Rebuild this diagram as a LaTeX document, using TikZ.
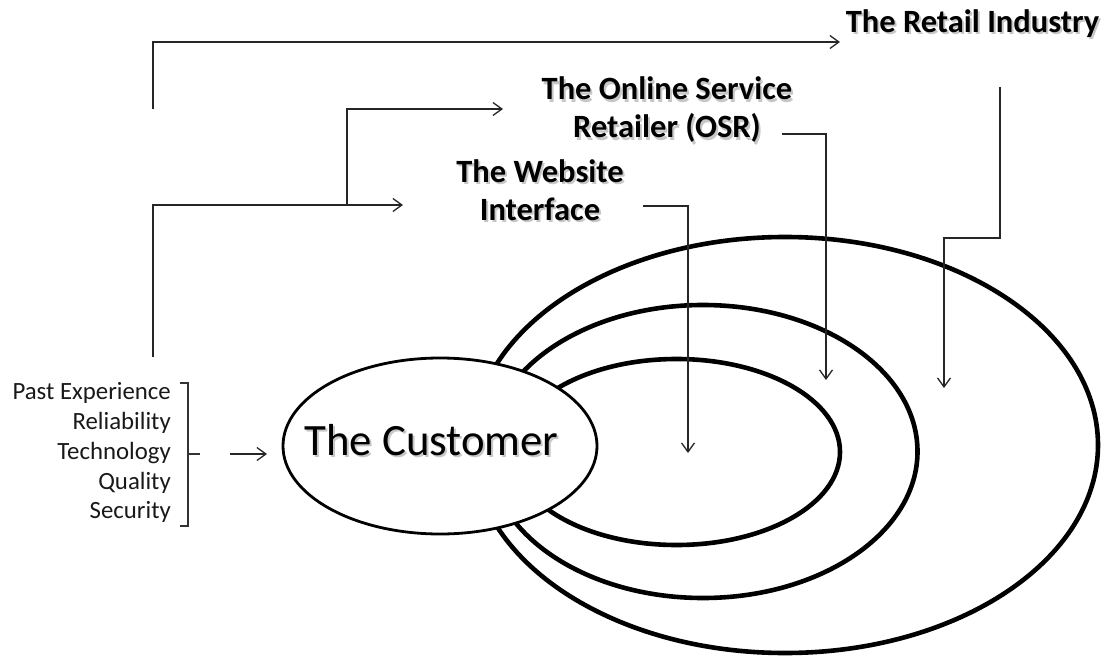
\documentclass[tikz,border=0pt]{standalone}
\usepackage{fontspec}
\setmainfont{Carlito}
\usetikzlibrary{arrows.meta,shapes.geometric}

\begin{document}
\begin{tikzpicture}[x=1pt,y=-1pt,
  ring/.style={draw=black, line width=4.6pt, ellipse, inner sep=0pt},
  core/.style={draw=black, fill=white, line width=2.8pt, ellipse, inner sep=0pt},
  wire/.style={draw=black!85, line width=1.3pt},
  link/.style={wire, -{Straight Barb[length=9pt,width=13pt,line width=1.3pt]}},
  brace/.style={draw=black!80, line width=1.2pt},
  heading/.style={font=\fontsize{32.5}{38}\selectfont\bfseries, align=center, inner sep=0pt, anchor=base},
  shade/.style={text=black!22},
  factor/.style={font=\fontsize{24.8}{29}\selectfont, inner sep=0pt, anchor=base east, text=black!90},
  bigword/.style={font=\fontsize{44.8}{50}\selectfont, inner sep=0pt, anchor=base},
]
\useasboundingbox (0,0) rectangle (1108,658);

% nested contexts
\node[ring, minimum width=626pt, minimum height=416pt] (retail) at (785,445) {};
\node[ring, minimum width=429pt, minimum height=293pt] (osr) at (703,451.5) {};
\node[ring, minimum width=327pt, minimum height=186pt] (web) at (676.5,452) {};

% the customer
\node[core, minimum width=314pt, minimum height=176pt] (customer) at (440,446) {};
\node[bigword, shade] (customershade) at (433.5,457) {The Customer};
\node[bigword] (customertext) at (431.5,455) {The Customer};

% headings (base anchor sits on the last line)
\node[heading, shade] (retailshade) at (974.5,35) {The Retail Industry};
\node[heading] (retaillabel) at (972.5,33) {The Retail Industry};
\node[heading, shade] (osrshade) at (669,140) {The Online Service\\Retailer (OSR)};
\node[heading] (osrlabel) at (667,138) {The Online Service\\Retailer (OSR)};
\node[heading, shade] (webshade) at (542,222) {The Website\\Interface};
\node[heading] (weblabel) at (540,220) {The Website\\Interface};

% influencing factors
\node[factor] (f1) at (171,399) {Past Experience};
\node[factor] (f2) at (171,429) {Reliability};
\node[factor] (f3) at (171,459) {Technology};
\node[factor] (f4) at (171,489) {Quality};
\node[factor] (f5) at (171,518) {Security};
\draw[brace] (180,383) -- (188,383) -- (188,526) -- (180,526);
\draw[brace] (188,454) -- (200,454);
\coordinate (factorsout) at (230,454);
\coordinate (customerin) at (267,454);
\draw[link] (factorsout) -- (customerin);

% feed lines from the customer side up to each heading
\coordinate (topstart) at (153,109);
\coordinate (topcorner) at (153,42);
\coordinate (retailin) at (840,42);
\draw[link] (topstart) -- (topcorner) -- (retailin);

\coordinate (lowstart) at (153,357);
\coordinate (lowcorner) at (153,205);
\coordinate (webin) at (403,205);
\draw[link] (lowstart) -- (lowcorner) -- (webin);

\coordinate (split) at (347,205);
\coordinate (splitcorner) at (347,109);
\coordinate (osrin) at (503,109);
\draw[link] (split) -- (splitcorner) -- (osrin);

% drops from each heading into its ring
\coordinate (retaildrop) at (1000,87);
\coordinate (retailknee) at (1000,238);
\coordinate (retailjog) at (944,238);
\coordinate (retailtip) at (944,388);
\draw[link] (retaildrop) -- (retailknee) -- (retailjog) -- (retailtip);

\coordinate (osrout) at (782,134);
\coordinate (osrknee) at (826,134);
\coordinate (osrtip) at (826,380);
\draw[link] (osrout) -- (osrknee) -- (osrtip);

\coordinate (webout) at (643,206);
\coordinate (webknee) at (688,206);
\coordinate (webtip) at (688,453);
\draw[link] (webout) -- (webknee) -- (webtip);
\end{tikzpicture}
\end{document}
